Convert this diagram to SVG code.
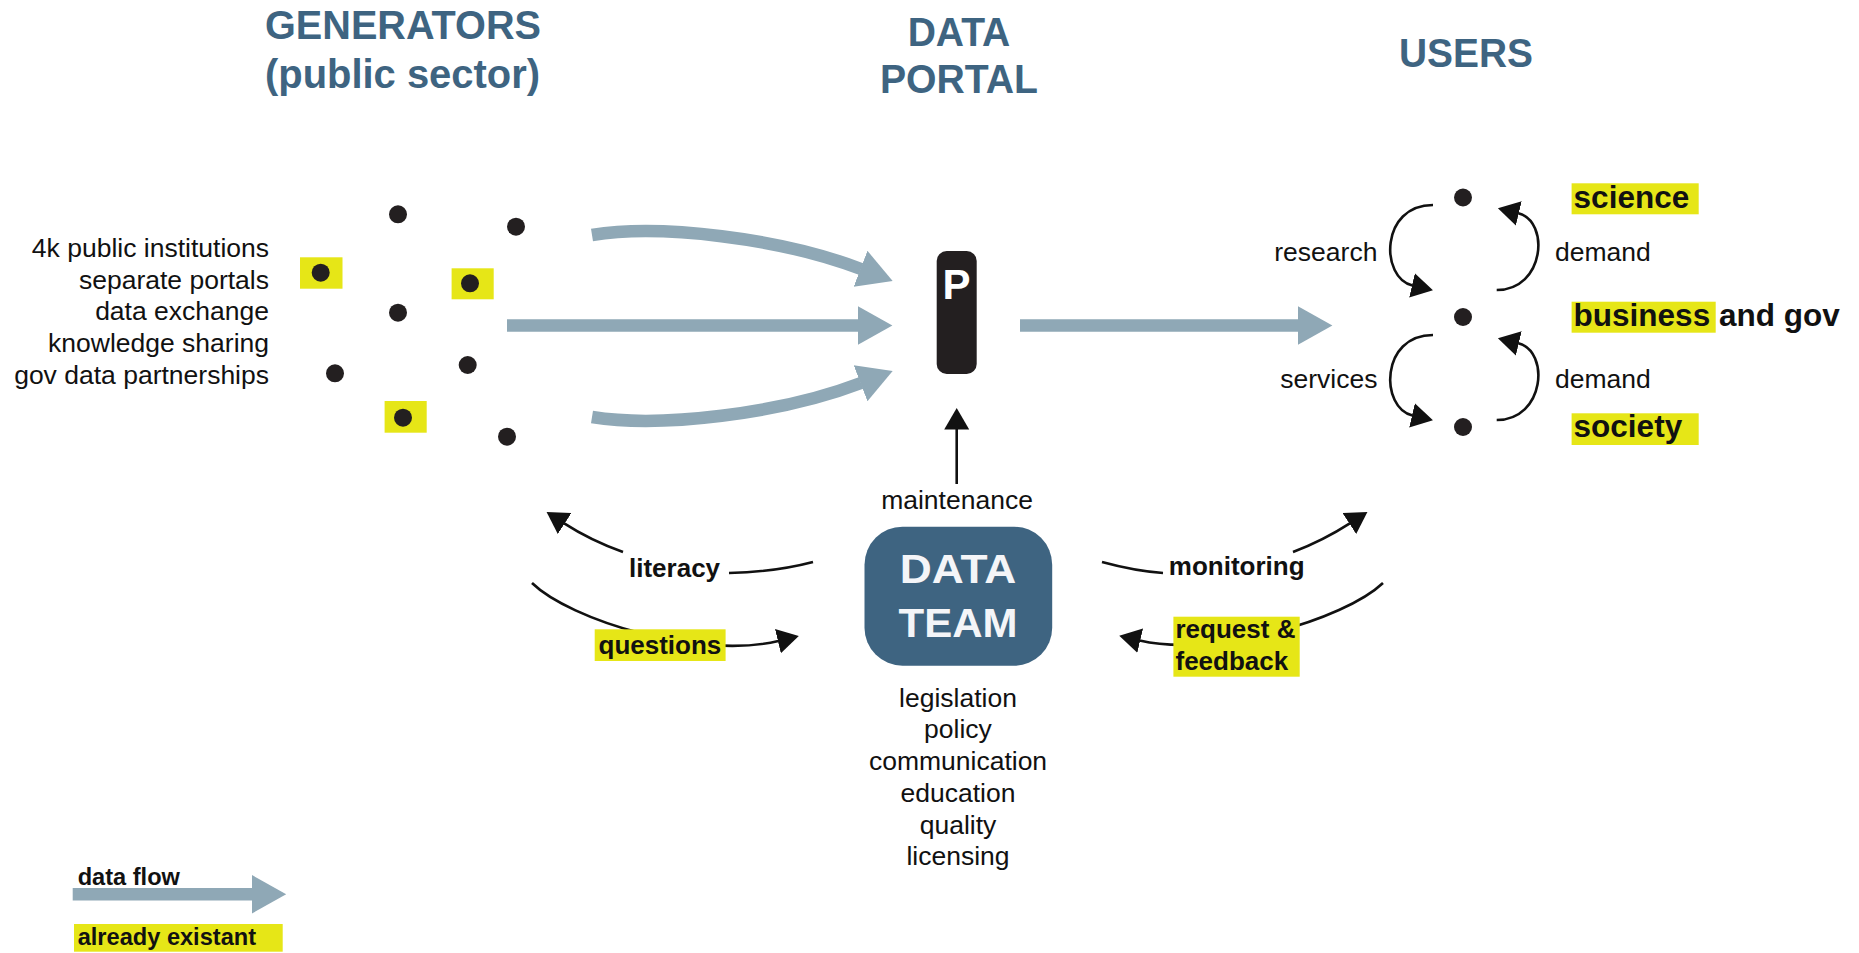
<svg xmlns="http://www.w3.org/2000/svg" width="1859" height="953" viewBox="0 0 1859 953">
  <defs>
    <style>
      .title { font-family: "Liberation Sans", Arial, sans-serif; font-weight: bold; font-size: 41px; fill: #3e6481; text-anchor: middle; }
      .reg { font-family: "Liberation Sans", Arial, sans-serif; font-size: 26.5px; fill: #111; }
      .bold { font-family: "Liberation Sans", Arial, sans-serif; font-weight: bold; font-size: 26px; fill: #111; }
      .big { font-family: "Liberation Sans", Arial, sans-serif; font-weight: bold; font-size: 31.5px; fill: #111; }
      .leg { font-family: "Liberation Sans", Arial, sans-serif; font-weight: bold; font-size: 23.6px; fill: #111; }
      .dot { fill: #231f20; }
      .hl { fill: #e6e617; }
      .flow { fill: none; stroke: #8fa8b6; stroke-width: 12.5; marker-end: url(#bigHead); }
      .link { fill: none; stroke: #111; stroke-width: 2.6; }
      .arr { marker-end: url(#head); }
    </style>
    <marker id="bigHead" markerUnits="userSpaceOnUse" viewBox="0 -20 35 40" markerWidth="35" markerHeight="40" refX="0.5" refY="0" orient="auto">
      <path d="M0,-19.3 L34.4,0 L0,19.3 Z" fill="#8fa8b6"/>
    </marker>
    <marker id="head" markerUnits="userSpaceOnUse" viewBox="0 -13 22 26" markerWidth="22" markerHeight="26" refX="0.5" refY="0" orient="auto">
      <path d="M0,-12.5 L21.5,0 L0,12.5 Z" fill="#111"/>
    </marker>
  </defs>
  <rect width="1859" height="953" fill="#ffffff"/>

  <!-- Titles -->
  <g id="title-generators">
    <text class="title" x="403" y="39.3" textLength="276" lengthAdjust="spacingAndGlyphs">GENERATORS</text>
    <text class="title" x="402.5" y="87.5" textLength="275" lengthAdjust="spacingAndGlyphs">(public sector)</text>
  </g>
  <g id="title-portal">
    <text class="title" x="959" y="45.7" textLength="102.6" lengthAdjust="spacingAndGlyphs">DATA</text>
    <text class="title" x="959" y="93" textLength="158" lengthAdjust="spacingAndGlyphs">PORTAL</text>
  </g>
  <g id="title-users">
    <text class="title" x="1466" y="67" textLength="134" lengthAdjust="spacingAndGlyphs">USERS</text>
  </g>

  <!-- Connectors -->
  <g id="connectors">
    <path class="flow" d="M592,235 C660,224 780,238 861,269"/>
    <path class="flow" d="M507,325.5 H858.5"/>
    <path class="flow" d="M592,417 C660,428 780,414 861,383"/>
    <path class="flow" d="M1020,325.5 H1298.5"/>

    <path class="link arr" d="M956.7,484 V429"/>

    <path class="link" d="M813,562 Q775,572 729,573"/>
    <path class="link arr" d="M623,552 Q590,540 564.2,523.3"/>
    <path class="link arr" d="M532,583 C570,620 700,660 778.4,640.9"/>

    <path class="link" d="M1102,562 Q1135,571 1163,573"/>
    <path class="link arr" d="M1293,552 Q1324,540 1349.8,523.3"/>
    <path class="link arr" d="M1383,583 C1344,620 1214,658 1139.7,640.5"/>

    <path class="link arr" d="M1433,205 C1380,205 1380,278 1412.5,285.5"/>
    <path class="link arr" d="M1496.7,290 C1545,290 1550,221 1518.3,213.3"/>
    <path class="link arr" d="M1433,335 C1380,335 1380,408 1412.5,415.5"/>
    <path class="link arr" d="M1496.7,420 C1545,420 1550,351 1518.3,343.3"/>
  </g>

  <!-- Generators -->
  <g id="generators">
    <rect class="hl" x="300" y="257.3" width="42.5" height="31.4"/>
    <rect class="hl" x="451.6" y="268.3" width="42.1" height="31"/>
    <rect class="hl" x="384.6" y="401" width="42.1" height="31.7"/>
    <circle class="dot" cx="398" cy="214.3" r="9"/>
    <circle class="dot" cx="516" cy="226.7" r="9"/>
    <circle class="dot" cx="320.7" cy="272.7" r="9"/>
    <circle class="dot" cx="470" cy="283.3" r="9"/>
    <circle class="dot" cx="398" cy="312.7" r="9"/>
    <circle class="dot" cx="335" cy="373.3" r="9"/>
    <circle class="dot" cx="467.7" cy="365" r="9"/>
    <circle class="dot" cx="403" cy="417.7" r="9"/>
    <circle class="dot" cx="507" cy="436.7" r="9"/>
  </g>
  <g id="generators-text" class="reg" text-anchor="end">
    <text x="269" y="257">4k public institutions</text>
    <text x="269" y="288.7">separate portals</text>
    <text x="269" y="320.4">data exchange</text>
    <text x="269" y="352.1">knowledge sharing</text>
    <text x="269" y="383.8">gov data partnerships</text>
  </g>

  <!-- Portal -->
  <g id="portal">
    <rect x="936.7" y="251" width="40" height="123" rx="10" fill="#231f20"/>
    <text x="956.5" y="299" font-family="Liberation Sans, Arial, sans-serif" font-weight="bold" font-size="42" fill="#ffffff" text-anchor="middle">P</text>
  </g>

  <!-- Data team -->
  <g id="data-team">
    <text class="reg" x="957" y="509" text-anchor="middle">maintenance</text>
    <rect x="864.5" y="526.7" width="187.7" height="139" rx="38" fill="#3e6481"/>
    <text x="958" y="583.3" font-family="Liberation Sans, Arial, sans-serif" font-weight="bold" font-size="40" fill="#f4f5f8" text-anchor="middle" textLength="116.5" lengthAdjust="spacingAndGlyphs">DATA</text>
    <text x="958" y="637" font-family="Liberation Sans, Arial, sans-serif" font-weight="bold" font-size="40" fill="#f4f5f8" text-anchor="middle" textLength="119" lengthAdjust="spacingAndGlyphs">TEAM</text>
    <g class="reg" text-anchor="middle">
      <text x="958" y="706.7">legislation</text>
      <text x="958" y="738.4">policy</text>
      <text x="958" y="770.1">communication</text>
      <text x="958" y="801.8">education</text>
      <text x="958" y="833.5">quality</text>
      <text x="958" y="865.2">licensing</text>
    </g>
  </g>

  <!-- Link labels -->
  <g id="label-literacy"><text class="bold" x="629" y="576.7">literacy</text></g>
  <g id="label-questions">
    <rect class="hl" x="594.7" y="629.3" width="130.9" height="31.7"/>
    <text class="bold" x="598.5" y="654.3">questions</text>
  </g>
  <g id="label-monitoring"><text class="bold" x="1168.8" y="575">monitoring</text></g>
  <g id="label-request">
    <rect class="hl" x="1173.4" y="616.7" width="126.3" height="60"/>
    <text class="bold" x="1175.5" y="638.3">request &amp;</text>
    <text class="bold" x="1175.5" y="670">feedback</text>
  </g>

  <!-- Users -->
  <g id="users">
    <circle class="dot" cx="1463" cy="197.5" r="9"/>
    <circle class="dot" cx="1463" cy="317" r="9"/>
    <circle class="dot" cx="1463" cy="427" r="9"/>
    <text class="reg" x="1377.4" y="261" text-anchor="end">research</text>
    <text class="reg" x="1377.4" y="388.3" text-anchor="end">services</text>
    <text class="reg" x="1555" y="261">demand</text>
    <text class="reg" x="1555" y="388.3">demand</text>
  </g>
  <g id="user-science">
    <rect class="hl" x="1571.6" y="183.3" width="127.1" height="31"/>
    <text class="big" x="1573.6" y="208.3">science</text>
  </g>
  <g id="user-business">
    <rect class="hl" x="1571.6" y="301.7" width="144.1" height="31"/>
    <text class="big" x="1573.6" y="325.7">business and gov</text>
  </g>
  <g id="user-society">
    <rect class="hl" x="1571.6" y="413.3" width="127.1" height="31.7"/>
    <text class="big" x="1573.6" y="436.7">society</text>
  </g>

  <!-- Legend -->
  <g id="legend">
    <path class="flow" d="M72.7,894.3 H252.3"/>
    <text class="leg" x="77.7" y="885">data flow</text>
    <rect class="hl" x="74" y="924" width="208.7" height="27.7"/>
    <text class="leg" x="77.7" y="945">already existant</text>
  </g>
</svg>
